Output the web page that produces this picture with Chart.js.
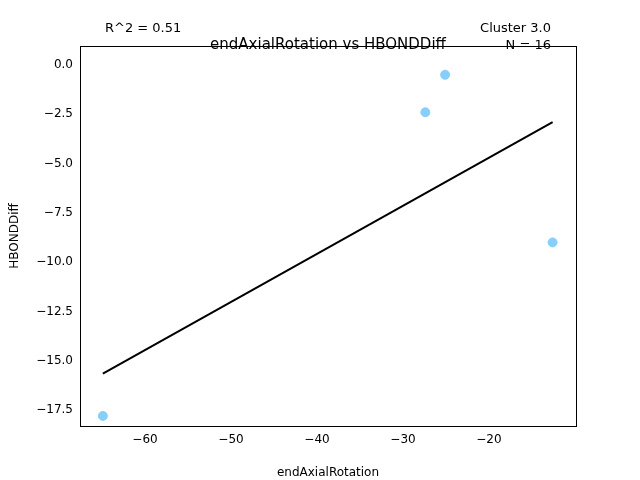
<!DOCTYPE html>
<html>
<head>
<script src="https://cdn.jsdelivr.net/npm/chart.js@4"></script>
<style>body{margin:0;background:#fff}</style>
</head>
<body>
<div style="width:640px;height:480px"><canvas id="c"></canvas></div>
<script>
const pointsX = [-64.9, -27.4, -25.1, -12.6];
const pointsY = [-17.8, -2.4, -0.5, -9.0];
const fitX = [-64.9, -12.6];
const fitY = [-15.65, -2.9];
const xTicks = [-60, -50, -40, -30, -20];
const yTicks = [0, -2.5, -5, -7.5, -10, -12.5, -15, -17.5];

const fmt = (v, d) => (v < 0 ? '\u2212' : '') + Math.abs(v).toFixed(d);
const font = { family: 'DejaVu Sans', size: 12 };

const textPlugin = {
  id: 'texts',
  afterDraw(chart) {
    const ctx = chart.ctx, a = chart.chartArea;
    ctx.save();
    ctx.strokeStyle = '#000';
    ctx.lineWidth = 1;
    ctx.strokeRect(a.left + 0.5, a.top + 0.5, a.right - a.left, a.bottom - a.top);
    ctx.fillStyle = '#000';
    ctx.font = '13px DejaVu Sans';
    ctx.textAlign = 'left';
    ctx.fillText('R^2 = 0.51', 105, 32);
    ctx.textAlign = 'right';
    ctx.fillText('Cluster 3.0', 551, 32);
    ctx.fillText('N = 16', 551, 49);
    ctx.textAlign = 'center';
    ctx.font = '15px DejaVu Sans';
    ctx.fillText('endAxialRotation vs HBONDDiff', 328, 49);
    ctx.restore();
  }
};

new Chart(document.getElementById('c'), {
  type: 'scatter',
  data: {
    datasets: [
      {
        data: pointsX.map((x, i) => ({ x, y: pointsY[i] })),
        backgroundColor: '#87cefa',
        borderColor: '#87cefa',
        pointRadius: 4.5,
      },
      {
        type: 'line',
        data: fitX.map((x, i) => ({ x, y: fitY[i] })),
        borderColor: '#000',
        borderWidth: 2,
        pointRadius: 0,
        fill: false,
      },
    ],
  },
  options: {
    responsive: true,
    maintainAspectRatio: false,
    animation: false,
    layout: { padding: { top: 46, right: 64, left: 8, bottom: 0 } },
    plugins: { legend: { display: false }, tooltip: { enabled: false } },
    scales: {
      x: {
        min: -67.56, max: -9.88,
        grid: { display: false, tickLength: 4, tickColor: '#000' },
        border: { color: '#000' },
        ticks: { color: '#000', font, callback: v => fmt(v, 0) },
        afterBuildTicks: s => { s.ticks = xTicks.map(value => ({ value })); },
        title: { display: true, text: 'endAxialRotation', color: '#000', font, padding: { top: 2, bottom: 0 } },
        afterFit: s => { s.height = 54; },
      },
      y: {
        min: -18.31, max: 0.96,
        grid: { display: false, tickLength: 4, tickColor: '#000' },
        border: { color: '#000' },
        ticks: { color: '#000', font, callback: v => fmt(v, 1) },
        afterBuildTicks: s => { s.ticks = yTicks.map(value => ({ value })); },
        title: { display: true, text: 'HBONDDiff', color: '#000', font, padding: 0 },
        afterFit: s => { s.width = 72; },
      },
    },
  },
  plugins: [textPlugin],
});
</script>
</body>
</html>
